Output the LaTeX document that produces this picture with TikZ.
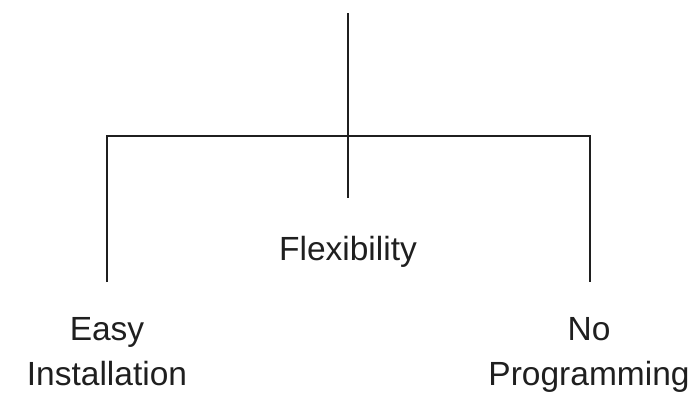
\documentclass[tikz,border=0pt]{standalone}
\usepackage{fontspec}
\setmainfont{Liberation Sans}
\begin{document}
\begin{tikzpicture}[x=1pt,y=-1pt,
  link/.style={line width=2.2pt,draw=black!88,line cap=butt,line join=miter},
  label/.style={inner sep=0pt,align=center,anchor=base,font=\fontsize{33.5}{45}\selectfont,text=black!88}]
\useasboundingbox (0,0) rectangle (696,392);
\coordinate (top) at (348,13);
\coordinate (hub) at (348,136);
\coordinate (mend) at (348,198);
\coordinate (lj) at (107,136);
\coordinate (rj) at (590,136);
\coordinate (lend) at (107,282);
\coordinate (rend) at (590,282);
\draw[link] (top) -- (mend);
\draw[link] (lend) -- (lj) -- (rj) -- (rend);
\node[label] (flex) at (348,260) {Flexibility};
\node[label] (easy) at (107,385) {Easy\\Installation};
\node[label] (noprog) at (589,385) {No\\Programming};
\end{tikzpicture}
\end{document}
